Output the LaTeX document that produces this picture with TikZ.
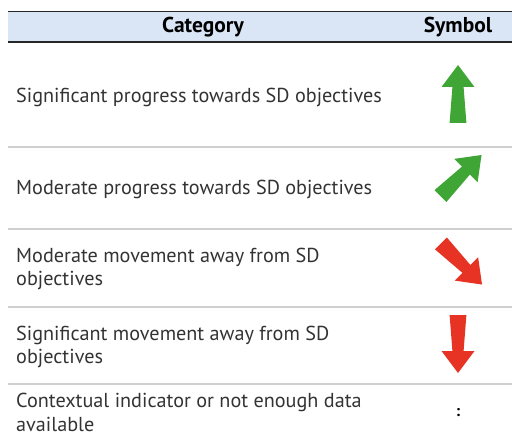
\documentclass[tikz,border=0pt]{standalone}
\usepackage{fontspec}
\setmainfont{PT Sans}
\definecolor{hdr}{HTML}{DAE6F5}
\definecolor{sep}{HTML}{D0D0D0}
\definecolor{agreen}{HTML}{3FA535}
\definecolor{ared}{HTML}{E63323}
\begin{document}
\begin{tikzpicture}[x=1pt,y=-1pt,
  txt/.style={anchor=west,align=left,inner sep=0pt,font=\fontsize{20.2}{23.5}\selectfont,text=black!80},
  hd/.style={inner sep=0pt,font=\fontsize{21.5}{22}\selectfont\bfseries},
  sepline/.style={draw=sep,line width=1.2pt},
  pics/bigarrow/.style={code={
    \fill[#1] (0,-29) -- (16.5,-7) -- (5.6,-7) -- (8.4,29) -- (-8.4,29) -- (-5.6,-7) -- (-16.5,-7) -- cycle;
  }}]
\useasboundingbox (0,0) rectangle (512,436);
% header
\fill[hdr] (8,12) rectangle (512,42);
\draw[line width=1pt,black!85] (8,12) -- (512,12);
\draw[line width=1.5pt,black!85] (8,42) -- (512,42);
\node[hd] (hcat) at (203,27.5) {Category};
\node[hd] (hsym) at (458,27.5) {Symbol};
% separators
\draw[sepline] (8,147) -- (512,147);
\draw[sepline] (8,229) -- (512,229);
\draw[sepline] (8,307) -- (512,307);
\draw[sepline] (8,384) -- (512,384);
% texts
\node[txt] (t1) at (16,97) {Significant progress towards SD objectives};
\node[txt] (t2) at (16,189) {Moderate progress towards SD objectives};
\node[txt] (t3) at (16,269) {Moderate movement away from SD\\objectives};
\node[txt] (t4) at (16,347) {Significant movement away from SD\\objectives};
\node[txt] (t5) at (16,412.5) {Contextual indicator or not enough data\\available};
% symbols
\pic (a1) at (458,94) {bigarrow=agreen};
\pic[rotate=-45] (a2) at (461,175.5) {bigarrow=agreen};
\pic[rotate=-135] (a3) at (461.5,264) {bigarrow=ared};
\pic[rotate=180] (a4) at (458,344) {bigarrow=ared};
\node[inner sep=0pt,font=\fontsize{16}{16}\selectfont\bfseries] (c5) at (458,413) {:};
\end{tikzpicture}
\end{document}
